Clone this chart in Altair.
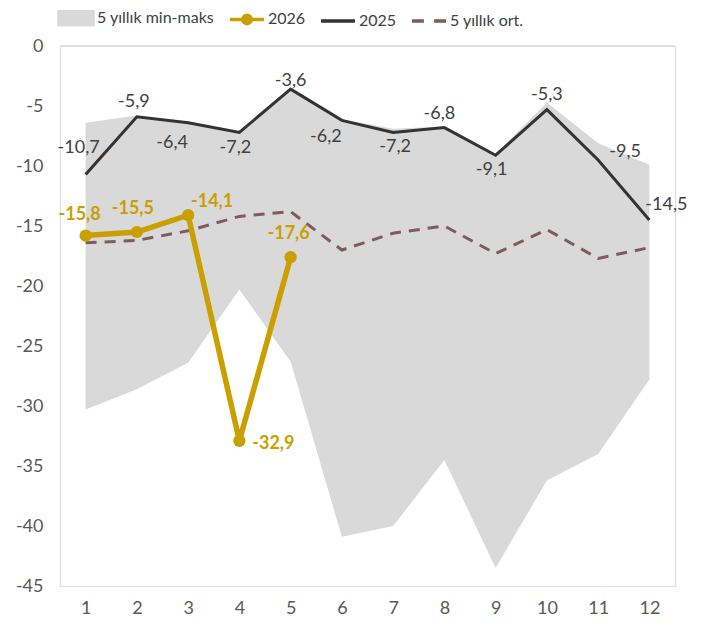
import altair as alt
import pandas as pd

# ---- data ----
MONTHS = list(range(1, 13))
MAX5 = [-6.4, -5.8, -6.3, -7.1, -3.5, -6.1, -6.9, -6.7, -9.0, -4.7, -8.1, -9.9]
MIN5 = [-30.3, -28.6, -26.4, -20.3, -26.3, -40.9, -40.0, -34.5, -43.5, -36.2, -34.0, -27.8]
AVG5 = [-16.4, -16.2, -15.4, -14.2, -13.8, -17.0, -15.6, -15.0, -17.3, -15.3, -17.7, -16.8]
Y2025 = [-10.7, -5.9, -6.4, -7.2, -3.6, -6.2, -7.2, -6.8, -9.1, -5.3, -9.5, -14.5]
M2026 = [1, 2, 3, 4, 5]
Y2026 = [-15.8, -15.5, -14.1, -32.9, -17.6]
SERIES = ["5 yıllık min-maks", "2026", "2025", "5 yıllık ort."]
Y_TICKS = [0, -5, -10, -15, -20, -25, -30, -35, -40, -45]

# ---- styling ----
FONT = "Lato"
GOLD = "#C9A000"
DARK = "#333333"
AVGC = "#7F5A5E"
BAND = "#D9D9D9"
TXT = "#404040"
AX = "#595959"

# label placement (pixel offsets), per month
OFF_2025 = {1: (-7, -26), 2: (-3, -15), 3: (-16, 20), 4: (-4, 16), 5: (0, -8),
            6: (-16, 17), 7: (2, 15), 8: (-5, -14), 9: (-4, 15), 10: (0, -15),
            11: (27, -8), 12: (17, -15)}
OFF_2026 = {1: (-6, -21), 2: (-4, -23), 3: (24, -13), 4: (34, 3), 5: (-2, -23)}


def fmt(v):
    return f"{v:.1f}".replace(".", ",")


band_df = pd.DataFrame({"month": MONTHS, "lo": MIN5, "hi": MAX5})
avg_df = pd.DataFrame({"month": MONTHS, "val": AVG5})
l25_df = pd.DataFrame({"month": MONTHS, "val": Y2025, "lab": [fmt(v) for v in Y2025]})
l26_df = pd.DataFrame({"month": M2026, "val": Y2026, "lab": [fmt(v) for v in Y2026]})
leg_df = pd.DataFrame({"series": SERIES, "month": [1] * 4, "val": [0] * 4})

xs = alt.Scale(domain=[0.5, 12.5], nice=False, zero=False)
ys = alt.Scale(domain=[-45, 0], nice=False)

X = alt.X("month:Q", scale=xs, title=None,
          axis=alt.Axis(values=MONTHS, format="d", domain=False, ticks=False, grid=False,
                        labelPadding=13, labelFontSize=18, labelColor=AX, labelFont=FONT))
Y = alt.Y("val:Q", scale=ys, title=None,
          axis=alt.Axis(values=Y_TICKS, labelExpr="toString(datum.value)", domain=False,
                        ticks=False, grid=False, labelPadding=17, labelFontSize=18,
                        labelColor=AX, labelFont=FONT))

band = alt.Chart(band_df).mark_area(color=BAND, opacity=1).encode(
    x=alt.X("month:Q", scale=xs), y=alt.Y("lo:Q", scale=ys), y2="hi:Q")

zero = alt.Chart(pd.DataFrame({"val": [0]})).mark_rule(color=BAND, strokeWidth=1.5).encode(
    y=alt.Y("val:Q", scale=ys))

avg = alt.Chart(avg_df).mark_line(color=AVGC, strokeWidth=3, strokeDash=[11, 8]).encode(x=X, y=Y)

l25 = alt.Chart(l25_df).mark_line(color=DARK, strokeWidth=3).encode(x=X, y=Y)

l26 = alt.Chart(l26_df).mark_line(color=GOLD, strokeWidth=5.5,
                                  point=alt.OverlayMarkDef(color=GOLD, size=150, filled=True, opacity=1)
                                  ).encode(x=X, y=Y)

labels = []
for m, (dx, dy) in OFF_2025.items():
    labels.append(alt.Chart(l25_df).transform_filter(alt.datum.month == m).mark_text(
        dx=dx, dy=dy, font=FONT, fontSize=18, color=TXT).encode(x=X, y=Y, text="lab:N"))
for m, (dx, dy) in OFF_2026.items():
    labels.append(alt.Chart(l26_df).transform_filter(alt.datum.month == m).mark_text(
        dx=dx, dy=dy, font=FONT, fontSize=18, fontWeight="bold", color=GOLD).encode(x=X, y=Y, text="lab:N"))

shapes = ["M-1,-0.38H1V0.38H-1Z",
          "M-1,0H1M0.25,0A0.25,0.25 0 1,1 -0.25,0A0.25,0.25 0 1,1 0.25,0Z",
          "M-1,0H1",
          "M-1,0H-0.3M0.3,0H1"]
strokes = [BAND, GOLD, DARK, AVGC]
fills = [BAND, GOLD, "transparent", "transparent"]

leg = alt.Legend(title=None, orient="none", legendX=-3, legendY=-47, direction="horizontal",
                 symbolSize=1156, symbolStrokeWidth=3.5, symbolOpacity=1,
                 labelFont=FONT, labelFontSize=16, labelColor=TXT, labelOffset=2,
                 columnPadding=8, labelLimit=300)

legend_layer = alt.Chart(leg_df).mark_point(opacity=0, filled=False).encode(
    x=alt.X("month:Q", scale=xs), y=alt.Y("val:Q", scale=ys),
    shape=alt.Shape("series:N", scale=alt.Scale(domain=SERIES, range=shapes), legend=leg),
    stroke=alt.Stroke("series:N", scale=alt.Scale(domain=SERIES, range=strokes), legend=leg),
    fill=alt.Fill("series:N", scale=alt.Scale(domain=SERIES, range=fills), legend=leg),
)

chart = alt.layer(band, zero, avg, l25, l26, *labels, legend_layer).properties(
    width=615, height=540,
    autosize=alt.AutoSizeParams(type="none"),
    padding={"left": 52, "top": 38, "right": 33, "bottom": 34},
).configure_view(stroke=None).configure(font=FONT, background="white")

chart.save("out.html", embed_options={"renderer": "svg", "actions": False})
